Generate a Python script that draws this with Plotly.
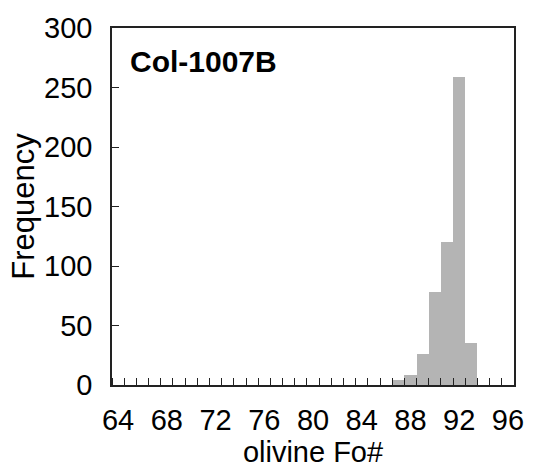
import plotly.graph_objects as go

fo_bins = list(range(64, 97))
counts = [0] * 23 + [4, 8, 26, 78, 120, 259, 35, 0, 0, 0]
x_tick_vals = list(range(64, 97, 4))
y_tick_vals = [0, 50, 100, 150, 200, 250, 300]
sample_label = "Col-1007B"

fig = go.Figure(go.Bar(x=fo_bins, y=counts, width=1.0,
                       marker=dict(color="#b4b4b4", line=dict(width=0))))

font_family = "Liberation Sans, Arial, sans-serif"
fig.update_layout(
    width=536, height=470,
    margin=dict(l=112, r=22, t=25, b=84),
    paper_bgcolor="white", plot_bgcolor="white",
    bargap=0, showlegend=False,
    font=dict(family=font_family, size=29, color="black"),
)
fig.update_xaxes(
    range=[63.5, 96.5], tickvals=x_tick_vals, ticks="", showgrid=False,
    zeroline=False, showline=True, mirror=True, linecolor="#222", linewidth=1.5,
    tickfont=dict(size=29), ticklabelstandoff=8,
    minor=dict(tick0=63.5, dtick=1, ticks="inside", ticklen=7, tickcolor="#222", tickwidth=1.2, showgrid=False),
    title=dict(text="olivine Fo#", font=dict(size=29), standoff=2),
)
fig.update_yaxes(
    range=[0, 300], tickvals=y_tick_vals, ticks="inside", ticklen=7, tickcolor="#222",
    tickwidth=1.2, showgrid=False, zeroline=False, showline=True, mirror=True,
    linecolor="#222", linewidth=1.5, tickfont=dict(size=29), ticklabelstandoff=12,
    title=dict(text="Frequency", font=dict(size=31), standoff=0),
)
fig.add_annotation(text="<b>" + sample_label + "</b>", xref="paper", yref="paper",
                   x=0.041, y=0.905, xanchor="left", yanchor="middle", showarrow=False,
                   font=dict(size=30, family=font_family, color="black"))
fig.write_html("out.html")
